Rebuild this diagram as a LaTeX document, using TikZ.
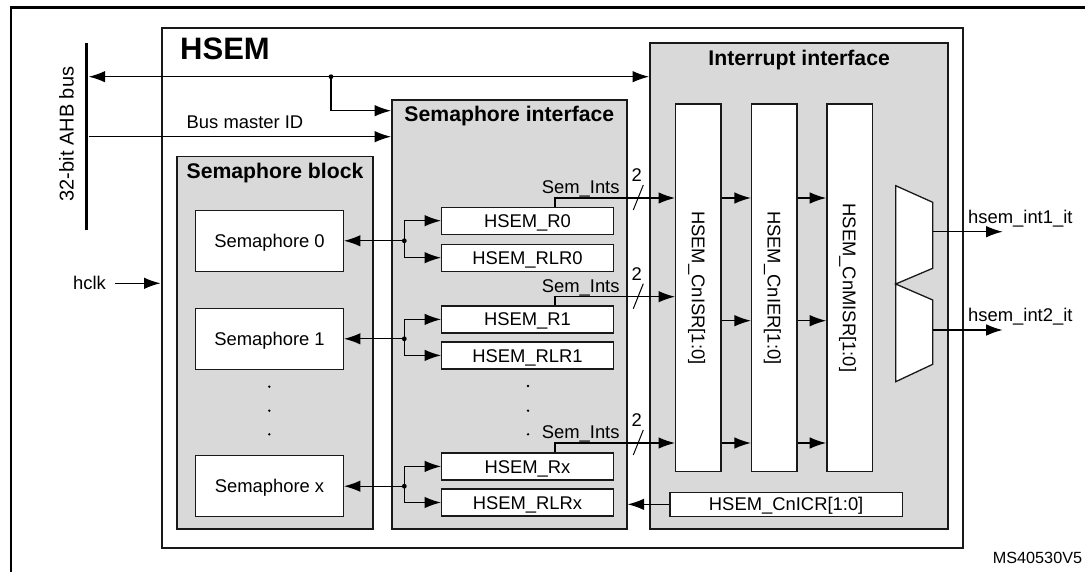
\documentclass[tikz,border=0pt]{standalone}
\usepackage{fontspec}
\setmainfont{Liberation Sans}
\usetikzlibrary{arrows.meta}
\definecolor{blockgray}{RGB}{217,217,217}
\definecolor{edgegray}{RGB}{25,25,25}

\begin{document}
\begin{tikzpicture}[x=1pt, y=-1pt, >={Latex[length=16.5pt,width=11.5pt]},
  lbl/.style={font=\fontsize{18.4}{20}\selectfont, inner sep=0pt},
  head/.style={font=\fontsize{21.2}{24}\selectfont\bfseries, inner sep=0pt, anchor=base},
  group/.style={draw=edgegray, fill=blockgray, line width=1.8pt, inner sep=0pt},
  cell/.style={draw=edgegray, fill=white, line width=1.3pt, inner sep=0pt, font=\fontsize{18.4}{20}\selectfont, text height=13.2pt, text depth=0pt},
  sig/.style={line width=1.3pt, ->},
  bidir/.style={line width=1.3pt, <->}]
  \useasboundingbox (0,0) rectangle (1085,572);
  \draw[line width=2.5pt] (1085,7.3) -- (11,7.3) -- (11,572);

  % bus and HSEM frame
  \node[fill=black, minimum width=3.5pt, minimum height=187pt, inner sep=0pt] (ahb) at (86.7,136.7) {};
  \node[lbl, rotate=90, font=\fontsize{20}{22}\selectfont, text height=14.3pt, text depth=0pt] (ahblbl) at (66.5,134) {32-bit AHB bus};
  \node[draw=edgegray, fill=white, line width=2.3pt, minimum width=801pt, minimum height=519.4pt, inner sep=0pt] (hsem) at (562.2,288) {};
  \node[font=\fontsize{31}{34}\selectfont\bfseries, anchor=base, inner sep=0pt] (hsemtitle) at (225,60) {HSEM};

  % the three blocks
  \node[group, minimum width=196.6pt, minimum height=372.5pt] (semblk) at (275,342.75) {};
  \node[group, minimum width=234.7pt, minimum height=429.3pt] (semif) at (509.35,314.35) {};
  \node[group, minimum width=298.3pt, minimum height=485.7pt] (intif) at (799.15,286.15) {};
  \node[head] (semblktitle) at (275,178.5) {Semaphore block};
  \node[head] (semiftitle) at (509.35,121.5) {Semaphore interface};
  \node[head] (intiftitle) at (799.15,65.9) {Interrupt interface};

  % semaphores
  \node[cell, minimum width=147.6pt, minimum height=61pt] (sem0) at (269.5,240.8) {Semaphore 0};
  \node[cell, minimum width=147.6pt, minimum height=61pt] (sem1) at (269.5,338.8) {Semaphore 1};
  \node[cell, minimum width=147.6pt, minimum height=61pt] (semx) at (269.5,486.2) {Semaphore x};
  \fill (269.3,386.7) circle (1.3pt) (269.3,410.7) circle (1.3pt) (269.3,434.3) circle (1.3pt);

  % semaphore registers
  \node[cell, minimum width=171.6pt, minimum height=27pt] (rr0) at (527.5,220.7) {HSEM\_R0};
  \node[cell, minimum width=171.6pt, minimum height=27pt] (rlr0) at (527.5,257.7) {HSEM\_RLR0};
  \node[cell, minimum width=171.6pt, minimum height=27pt] (rr1) at (527.5,319.4) {HSEM\_R1};
  \node[cell, minimum width=171.6pt, minimum height=27pt] (rlr1) at (527.5,355.4) {HSEM\_RLR1};
  \node[cell, minimum width=171.6pt, minimum height=27pt] (rrx) at (527.5,466.4) {HSEM\_Rx};
  \node[cell, minimum width=171.6pt, minimum height=27pt] (rlrx) at (527.5,502.5) {HSEM\_RLRx};
  \fill (528,386) circle (1.3pt) (528,410.7) circle (1.3pt) (528,434.3) circle (1.3pt);

  % interrupt registers
  \node[cell, minimum width=45.3pt, minimum height=367.7pt] (isr) at (698.35,287.85) {};
  \node[cell, minimum width=45.3pt, minimum height=367.7pt] (ier) at (774.2,287.85) {};
  \node[cell, minimum width=45.3pt, minimum height=367.7pt] (misr) at (849.5,287.85) {};
  \node[lbl, rotate=-90, text height=13.2pt, text depth=0pt] (isrtext) at (isr) {HSEM\_CnISR[1:0]};
  \node[lbl, rotate=-90, text height=13.2pt, text depth=0pt] (iertext) at (ier) {HSEM\_CnIER[1:0]};
  \node[lbl, rotate=-90, text height=13.2pt, text depth=0pt] (misrtext) at (misr) {HSEM\_CnMISR[1:0]};
  \node[cell, minimum width=232.3pt, minimum height=24pt] (icr) at (786.15,504.35) {HSEM\_CnICR[1:0]};
  \draw[line width=1.3pt, draw=edgegray, fill=white] (895.7,185.7) -- (932.7,202.3) -- (932.7,268.3) -- (895.7,284)
    -- (932.7,300) -- (932.7,364.3) -- (895.7,381.7) -- cycle;

  % bus connections
  \coordinate (ahbtap) at (331,76.7);
  \coordinate (ahbdrop) at (331,110.7);
  \coordinate (idrow) at (240,136.7);
  \draw[bidir] (ahb.east |- ahbtap) -- (intif.west |- ahbtap);
  \draw[sig] (ahbtap) -- (ahbdrop) -- (semif.west |- ahbdrop);
  \fill (ahbtap) circle (2.4pt);
  \draw[sig] (ahb.east |- idrow) -- (semif.west |- idrow);
  \node[lbl, anchor=base] (idlbl) at (245,128.3) {Bus master ID};
  \node[lbl, anchor=base] (hclk) at (89.5,289.3) {hclk};
  \coordinate (clkin) at (115,283.3);
  \draw[sig] (clkin) -- (hsem.west |- clkin);

  % semaphore <-> registers
  \coordinate (j0) at (404.3,240.8);
  \coordinate (j1) at (404.3,338.8);
  \coordinate (jx) at (404.3,486.2);
  \draw[sig] (j0) -- (sem0.east);
  \draw[sig] (j0) |- (rr0.west);
  \draw[sig] (j0) |- (rlr0.west);
  \draw[sig] (j1) -- (sem1.east);
  \draw[sig] (j1) |- (rr1.west);
  \draw[sig] (j1) |- (rlr1.west);
  \draw[sig] (jx) -- (semx.east);
  \draw[sig] (jx) |- (rrx.west);
  \draw[sig] (jx) |- (rlrx.west);
  \fill (j0) circle (2.4pt) (j1) circle (2.4pt) (jx) circle (2.4pt);

  % Sem_Ints to the interrupt interface
  \coordinate (tap0) at (555,198);
  \coordinate (tap1) at (555,296.7);
  \coordinate (tapx) at (555,443);
  \draw[sig] (rr0.north -| tap0) -- (tap0) -- (isr.west |- tap0);
  \draw[sig] (rr1.north -| tap1) -- (tap1) -- (isr.west |- tap1);
  \draw[sig] (rrx.north -| tapx) -- (tapx) -- (isr.west |- tapx);
  \node[lbl, anchor=base] (ints0) at ([shift={(25.7,-4.5)}]tap0) {Sem\_Ints};
  \node[lbl, anchor=base] (ints1) at ([shift={(25.7,-4.5)}]tap1) {Sem\_Ints};
  \node[lbl, anchor=base] (intsx) at ([shift={(25.7,-4.5)}]tapx) {Sem\_Ints};
  \node[lbl, anchor=base] (wd0) at ([shift={(81.7,-16.5)}]tap0) {2};
  \node[lbl, anchor=base] (wd1) at ([shift={(81.7,-16.5)}]tap1) {2};
  \node[lbl, anchor=base] (wdx) at ([shift={(81.7,-16.5)}]tapx) {2};
  \draw[line width=1pt] ([shift={(88.3,-13)}]tap0) -- ([shift={(78.3,12)}]tap0);
  \draw[line width=1pt] ([shift={(88.3,-13)}]tap1) -- ([shift={(78.3,12)}]tap1);
  \draw[line width=1pt] ([shift={(88.3,-13)}]tapx) -- ([shift={(78.3,12)}]tapx);

  % register chain
  \coordinate (midrow) at (740,320.7);
  \draw[sig] (isr.east |- tap0) -- (ier.west |- tap0);
  \draw[sig] (isr.east |- midrow) -- (ier.west |- midrow);
  \draw[sig] (isr.east |- tapx) -- (ier.west |- tapx);
  \draw[sig] (ier.east |- tap0) -- (misr.west |- tap0);
  \draw[sig] (ier.east |- midrow) -- (misr.west |- midrow);
  \draw[sig] (ier.east |- tapx) -- (misr.west |- tapx);
  \draw[sig] (icr.west) -- (semif.east |- icr.west);

  % outputs
  \coordinate (mux1) at (932.7,231.7);
  \coordinate (mux2) at (932.7,330);
  \coordinate (out1) at (1002.7,231.7);
  \coordinate (out2) at (1002.7,330);
  \draw[sig] (mux1) -- (out1);
  \draw[sig] (mux2) -- (out2);
  \node[lbl, anchor=base west] (int1) at (968,223.3) {hsem\_int1\_it};
  \node[lbl, anchor=base west] (int2) at (968,321.5) {hsem\_int2\_it};
  \node[font=\fontsize{16.2}{18}\selectfont, anchor=base, inner sep=0pt] (msid) at (1037.5,563.3) {MS40530V5};
\end{tikzpicture}
\end{document}
